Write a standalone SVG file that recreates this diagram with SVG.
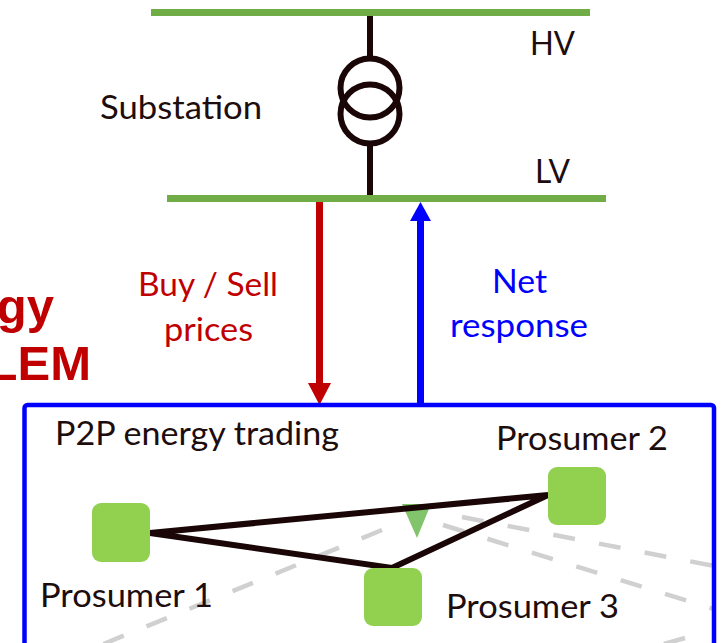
<svg xmlns="http://www.w3.org/2000/svg" width="721" height="643" viewBox="0 0 721 643">
<style>
.t{font-family:Lato,"Open Sans",sans-serif;font-size:32px;fill:#1d0d0d}
.r{fill:#c00000}
.b{fill:#0000ff}
.bold{font-family:"Liberation Sans",Arial,sans-serif;font-weight:bold;font-size:49px;fill:#c00000;text-anchor:end}
.bus{fill:#70ad47}
.node{fill:#92d050}
.dash{fill:none;stroke:#d0d0d0;stroke-width:4.500;stroke-dasharray:22 24.500}
.link{fill:none;stroke:#1a0606;stroke-width:6;stroke-linejoin:miter}
.wire{fill:none;stroke:#1a0606;stroke-width:6}
</style>
<rect width="721" height="643" fill="#fff"/>
<g id="background-dashes">
<path class="dash" d="M382 530L101 645"/>
<path class="dash" d="M462 517L714 566"/>
<path class="dash" d="M443 525L714 609"/>
<path class="dash" d="M685 638L664 644"/>
<path d="M402 504L431 504L417 538Z" fill="#82c46c"/>
</g>
<g id="hv-bus"><rect class="bus" x="151" y="9" width="439" height="7"/></g>
<g id="lv-bus"><rect class="bus" x="167" y="195" width="439" height="7"/></g>
<g id="substation">
<path class="wire" d="M370 16V59M370 143V195"/>
<circle class="wire" cx="370" cy="88" r="29.500"/>
<circle class="wire" cx="370" cy="114" r="29.500"/>
</g>
<g id="connectors">
<path d="M319.500 202V385" fill="none" stroke="#c00000" stroke-width="7"/>
<path d="M308 383H331L319.500 405Z" fill="#c00000"/>
<path d="M420.500 406V219" fill="none" stroke="#0000ff" stroke-width="7"/>
<path d="M410 221H431L420.500 202Z" fill="#0000ff"/>
<path class="link" d="M150 533L548 495L392 568Z"/>
</g>
<g id="p2p-box"><rect x="24.500" y="405" width="689.500" height="260" rx="3" fill="none" stroke="#0000ff" stroke-width="4.500"/></g>
<g id="prosumer-1"><rect class="node" x="92" y="503" width="58" height="59" rx="9"/></g>
<g id="prosumer-2"><rect class="node" x="548" y="467" width="58" height="58" rx="9"/></g>
<g id="prosumer-3"><rect class="node" x="364" y="568" width="58" height="58" rx="9"/></g>
<g id="labels">
<text class="t" x="100" y="119" textLength="162" lengthAdjust="spacingAndGlyphs">Substation</text>
<text class="t" x="530" y="55" textLength="45" lengthAdjust="spacingAndGlyphs">HV</text>
<text class="t" x="535" y="183" textLength="35" lengthAdjust="spacingAndGlyphs">LV</text>
<text class="t r" x="138" y="296" textLength="140" lengthAdjust="spacingAndGlyphs">Buy / Sell</text>
<text class="t r" x="164" y="341" textLength="89" lengthAdjust="spacingAndGlyphs">prices</text>
<text class="t b" x="492" y="293" textLength="55" lengthAdjust="spacingAndGlyphs">Net</text>
<text class="t b" x="450" y="337" textLength="138" lengthAdjust="spacingAndGlyphs">response</text>
<text class="bold" x="54" y="323">gy</text>
<text class="bold" x="91" y="380">LEM</text>
<text class="t" x="55" y="445" textLength="284" lengthAdjust="spacingAndGlyphs">P2P energy trading</text>
<text class="t" x="496" y="450" textLength="172" lengthAdjust="spacingAndGlyphs">Prosumer 2</text>
<text class="t" x="40" y="607" textLength="173" lengthAdjust="spacingAndGlyphs">Prosumer 1</text>
<text class="t" x="446" y="618" textLength="173" lengthAdjust="spacingAndGlyphs">Prosumer 3</text>
</g>
</svg>
